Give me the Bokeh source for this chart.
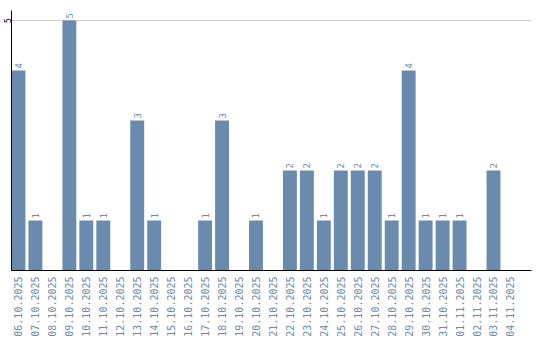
import math
from bokeh.plotting import figure
from bokeh.models import FixedTicker, ColumnDataSource
from bokeh.core.properties import value
from bokeh.embed import file_html
from bokeh.resources import INLINE

dates = ["06.10.2025", "07.10.2025", "08.10.2025", "09.10.2025", "10.10.2025",
         "11.10.2025", "12.10.2025", "13.10.2025", "14.10.2025", "15.10.2025",
         "16.10.2025", "17.10.2025", "18.10.2025", "19.10.2025", "20.10.2025",
         "21.10.2025", "22.10.2025", "23.10.2025", "24.10.2025", "25.10.2025",
         "26.10.2025", "27.10.2025", "28.10.2025", "29.10.2025", "30.10.2025",
         "31.10.2025", "01.11.2025", "02.11.2025", "03.11.2025", "04.11.2025"]
counts = [4, 1, 0, 5, 1, 1, 0, 3, 1, 0, 0, 1, 3, 0, 1, 0, 2, 2, 1, 2, 2, 2, 1, 4, 1, 1, 1, 0, 2, 0]
y_ticks = [5]

BAR = "#6a8bad"
TXT = "#6a8bad"

xs = list(range(len(dates)))
src = ColumnDataSource(dict(x=xs, y=counts))
nz = [i for i, c in enumerate(counts) if c > 0]
src_lab = ColumnDataSource(dict(x=[xs[i] for i in nz], y=[counts[i] for i in nz],
                                lab=[str(counts[i]) for i in nz]))

p = figure(width=540, height=340, output_backend="svg", toolbar_location=None,
           x_range=(-0.41, 30.24), y_range=(0, 5.2),
           min_border_left=10, min_border_right=9, min_border_top=10, min_border_bottom=70)
p.outline_line_color = None
p.background_fill_color = "white"
p.border_fill_color = "white"

p.vbar(x="x", top="y", width=0.82, bottom=0, source=src, fill_color=BAR, line_color=None)
p.text(x="x", y="y", text="lab", source=src_lab, angle=math.pi / 2,
       text_align="left", text_baseline="middle", y_offset=-2,
       text_font=value("DejaVu Sans Mono"), text_font_size="9px", text_color=TXT)

p.xgrid.grid_line_color = None
p.ygrid.ticker = FixedTicker(ticks=y_ticks)
p.ygrid.grid_line_color = "#cccccc"

p.xaxis.ticker = FixedTicker(ticks=xs)
p.xaxis.major_label_overrides = {i: d for i, d in enumerate(dates)}
p.xaxis.major_label_orientation = math.pi / 2
p.xaxis.major_label_text_font = "DejaVu Sans Mono"
p.xaxis.major_label_text_font_size = "10px"
p.xaxis.major_label_text_color = TXT
p.xaxis.major_tick_line_color = None
p.xaxis.minor_tick_line_color = None
p.xaxis.major_tick_out = 0
p.xaxis.major_tick_in = 0
p.xaxis.major_label_standoff = 6
p.xaxis.axis_line_color = "black"

p.yaxis.ticker = FixedTicker(ticks=y_ticks)
p.yaxis.major_label_orientation = "vertical"
p.yaxis.major_label_text_font = "DejaVu Sans Mono"
p.yaxis.major_label_text_font_size = "8px"
p.yaxis.major_label_text_color = "black"
p.yaxis.major_tick_line_color = None
p.yaxis.minor_tick_line_color = None
p.yaxis.major_tick_out = 0
p.yaxis.major_tick_in = 0
p.yaxis.major_label_standoff = 1
p.yaxis.axis_line_color = "black"

open("out.html", "w").write(file_html(p, INLINE))
